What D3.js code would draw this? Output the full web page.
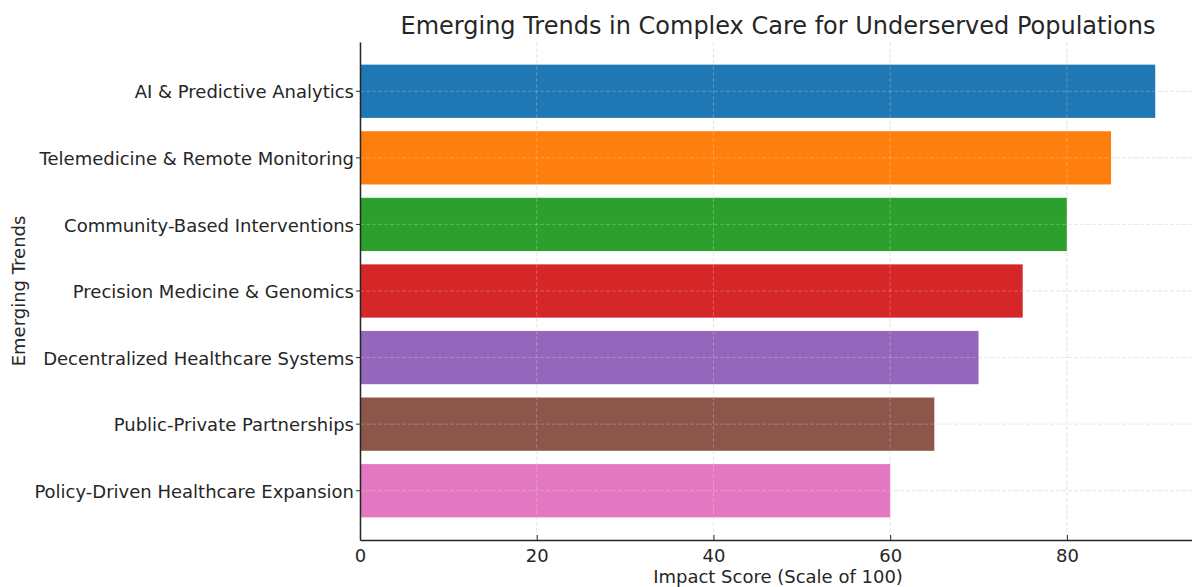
<!DOCTYPE html>
<html>
    <head>
        <meta charset="UTF-8">
        <title>Emerging Trends</title>
        <script src="https://cdn.jsdelivr.net/npm/d3@7"></script>
        <style>
            body { margin: 0; background: #fff; }
            text { font-family: "DejaVu Sans", sans-serif; fill: #262626; }
        </style>
    </head>
    <body>
        <script>
            // data
            var trends = ["AI & Predictive Analytics", "Telemedicine & Remote Monitoring",
                "Community-Based Interventions", "Precision Medicine & Genomics",
                "Decentralized Healthcare Systems", "Public-Private Partnerships",
                "Policy-Driven Healthcare Expansion"];
            var scores = [90, 85, 80, 75, 70, 65, 60];
            var colors = ["#1f77b4", "#ff7f0e", "#2ca02c", "#d62728", "#9467bd", "#8c564b", "#e377c2"];
            var xTicks = [0, 20, 40, 60, 80];

            var values = trends.map(function (t, i) {
                return {trend: t, score: scores[i], color: colors[i]};
            });

            var width = 1192, height = 587;
            var plotLeft = 360, plotRight = 1195, plotTop = 42, plotBottom = 540;

            var svg = d3.select("body").append("svg")
                    .attr("width", width)
                    .attr("height", height);

            var x = d3.scaleLinear().domain([0, 94.5]).range([plotLeft, plotRight]);
            var y = d3.scaleBand().domain(trends).range([plotTop, plotBottom])
                    .paddingInner(0.2).paddingOuter(0.34);

            // grid, under the bars
            svg.append("g").selectAll("line").data(xTicks)
                    .enter().append("line")
                    .attr("x1", function (d) { return x(d); })
                    .attr("x2", function (d) { return x(d); })
                    .attr("y1", plotTop).attr("y2", plotBottom)
                    .attr("stroke", "#d9d9d9").attr("stroke-dasharray", "4,2").attr("stroke-width", 0.8);
            svg.append("g").selectAll("line").data(trends)
                    .enter().append("line")
                    .attr("x1", plotLeft).attr("x2", width)
                    .attr("y1", function (d) { return y(d) + y.bandwidth() / 2; })
                    .attr("y2", function (d) { return y(d) + y.bandwidth() / 2; })
                    .attr("stroke", "#d9d9d9").attr("stroke-dasharray", "4,2").attr("stroke-width", 0.8);

            // bars
            svg.append("g").selectAll("rect").data(values)
                    .enter().append("rect")
                    .attr("x", x(0))
                    .attr("y", function (d) { return y(d.trend); })
                    .attr("width", function (d) { return x(d.score) - x(0); })
                    .attr("height", y.bandwidth())
                    .attr("fill", function (d) { return d.color; });

            // the grid shows faintly through the bars in the reference
            svg.append("g").selectAll("line").data(trends)
                    .enter().append("line")
                    .attr("x1", plotLeft).attr("x2", width)
                    .attr("y1", function (d) { return y(d) + y.bandwidth() / 2; })
                    .attr("y2", function (d) { return y(d) + y.bandwidth() / 2; })
                    .attr("stroke", "#ffffff").attr("stroke-opacity", 0.3)
                    .attr("stroke-dasharray", "4,2").attr("stroke-width", 0.8);
            svg.append("g").selectAll("line").data(xTicks)
                    .enter().append("line")
                    .attr("x1", function (d) { return x(d); })
                    .attr("x2", function (d) { return x(d); })
                    .attr("y1", plotTop).attr("y2", plotBottom)
                    .attr("stroke", "#ffffff").attr("stroke-opacity", 0.3)
                    .attr("stroke-dasharray", "4,2").attr("stroke-width", 0.8);

            // axes
            var xAxis = svg.append("g")
                    .attr("transform", "translate(0," + plotBottom + ")")
                    .call(d3.axisBottom(x).tickValues(xTicks).tickSize(-5).tickPadding(9).tickSizeOuter(0));
            xAxis.select(".domain").attr("stroke", "#262626").attr("stroke-width", 1.5);
            xAxis.selectAll(".tick line").attr("stroke", "#262626");
            xAxis.selectAll("text").style("font-size", "18px").attr("dy", "0.71em");

            var yAxis = svg.append("g")
                    .attr("transform", "translate(" + plotLeft + ",0)")
                    .call(d3.axisLeft(y).tickSize(4).tickPadding(2).tickSizeOuter(0));
            yAxis.select(".domain").attr("stroke", "#262626").attr("stroke-width", 1.5);
            yAxis.selectAll(".tick line").attr("stroke", "#262626");
            yAxis.selectAll("text").style("font-size", "18px").attr("dy", "0.4em");

            // titles
            svg.append("text")
                    .attr("x", 778).attr("y", 34)
                    .attr("text-anchor", "middle")
                    .style("font-size", "24px")
                    .text("Emerging Trends in Complex Care for Underserved Populations");
            svg.append("text")
                    .attr("x", 778).attr("y", 583)
                    .attr("text-anchor", "middle")
                    .style("font-size", "18px")
                    .text("Impact Score (Scale of 100)");
            svg.append("text")
                    .attr("transform", "translate(25,291) rotate(-90)")
                    .attr("text-anchor", "middle")
                    .style("font-size", "18px")
                    .text("Emerging Trends");
        </script>
    </body>
</html>
